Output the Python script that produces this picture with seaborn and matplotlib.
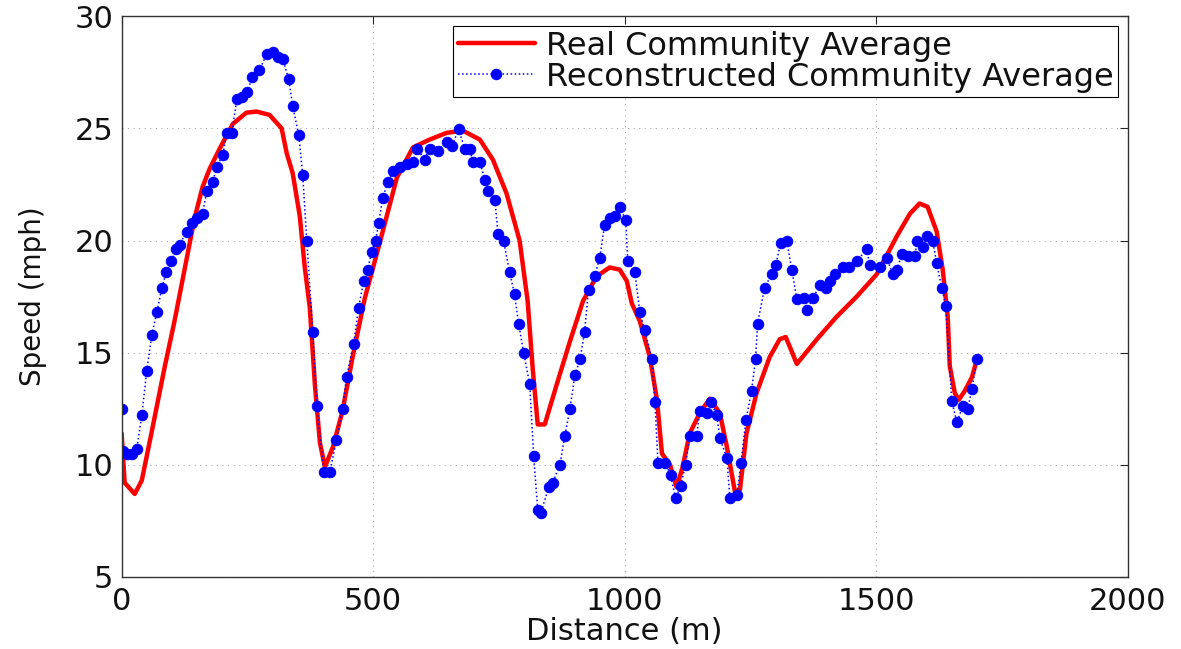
import numpy as np
import pandas as pd
import seaborn as sns
import matplotlib
matplotlib.use('Agg')
import matplotlib.pyplot as plt

# Real community average (red curve)
real_dist = [0, 6, 26, 40, 60, 85, 105, 125, 145, 161, 175, 195, 221, 248, 268,
             294, 318, 328, 340, 354, 364, 374, 384, 394, 404, 420, 439, 459,
             483, 513, 547, 579, 612, 646, 678, 712, 738, 765, 791, 807, 817,
             827, 841, 865, 891, 917, 944, 970, 990, 1004, 1014, 1030, 1050,
             1064, 1074, 1090, 1103, 1115, 1129, 1149, 1169, 1189, 1203, 1219,
             1229, 1242, 1262, 1288, 1308, 1320, 1342, 1382, 1421, 1461, 1501,
             1541, 1567, 1586, 1602, 1620, 1632, 1642, 1646, 1656, 1664, 1676,
             1690, 1700]
real_speed = [11.4, 9.2, 8.7, 9.3, 11.5, 14.3, 16.4, 18.7, 21.0, 22.4, 23.2,
              24.1, 25.2, 25.7, 25.75, 25.6, 25.0, 23.9, 23.0, 21.1, 18.8, 17.0,
              13.6, 11.0, 9.9, 10.8, 12.4, 14.8, 17.4, 19.9, 22.8, 24.15, 24.5,
              24.8, 24.9, 24.5, 23.6, 22.1, 20.0, 17.3, 14.3, 11.8, 11.8, 13.6,
              15.5, 17.3, 18.4, 18.8, 18.7, 18.2, 17.2, 16.4, 14.8, 12.9, 10.5,
              10.0, 9.0, 9.9, 11.4, 12.3, 12.95, 12.3, 10.8, 8.8, 8.9, 11.4,
              13.2, 14.8, 15.6, 15.7, 14.5, 15.6, 16.6, 17.5, 18.5, 20.2, 21.2,
              21.65, 21.5, 20.4, 18.7, 16.6, 14.4, 13.2, 12.9, 13.3, 13.9, 14.7]

# Reconstructed community average (blue dots)
rec_dist = [0, 2, 10, 20, 30, 40, 50, 60, 70, 80, 89, 99, 109, 115, 129, 139,
            149, 161, 169, 181, 189, 201, 209, 219, 229, 239, 249, 260, 274,
            288, 300, 310, 320, 332, 340, 352, 360, 368, 380, 388, 402, 414,
            427, 439, 447, 461, 471, 481, 489, 497, 505, 511, 519, 529, 539,
            553, 567, 579, 588, 602, 612, 628, 646, 656, 670, 682, 692, 698,
            712, 722, 728, 742, 748, 759, 771, 781, 789, 799, 811, 819, 827,
            833, 849, 857, 871, 881, 891, 901, 911, 920, 928, 940, 950, 960,
            970, 980, 990, 1002, 1006, 1020, 1030, 1040, 1054, 1060, 1066,
            1080, 1091, 1101, 1111, 1121, 1129, 1143, 1149, 1163, 1171, 1183,
            1189, 1203, 1209, 1223, 1231, 1241, 1252, 1260, 1264, 1278, 1292,
            1300, 1310, 1322, 1332, 1342, 1356, 1362, 1374, 1388, 1400, 1408,
            1417, 1433, 1445, 1461, 1481, 1487, 1507, 1521, 1533, 1541, 1551,
            1563, 1577, 1581, 1592, 1600, 1612, 1620, 1630, 1638, 1650, 1660,
            1672, 1682, 1690, 1700]
rec_speed = [12.5, 10.6, 10.5, 10.5, 10.7, 12.2, 14.2, 15.8, 16.8, 17.9, 18.6,
             19.1, 19.6, 19.8, 20.4, 20.8, 21.0, 21.2, 22.2, 22.6, 23.3, 23.8,
             24.8, 24.8, 26.3, 26.4, 26.6, 27.3, 27.6, 28.3, 28.4, 28.2, 28.1,
             27.2, 26.0, 24.7, 22.9, 20.0, 15.9, 12.6, 9.7, 9.7, 11.1, 12.5,
             13.9, 15.4, 17.0, 18.2, 18.7, 19.5, 20.0, 20.8, 21.9, 22.6, 23.1,
             23.3, 23.4, 23.5, 24.1, 23.6, 24.1, 24.0, 24.4, 24.2, 24.95, 24.1,
             24.1, 23.5, 23.5, 22.7, 22.2, 21.8, 20.3, 20.0, 18.6, 17.6, 16.3,
             15.0, 13.6, 10.4, 8.0, 7.85, 9.0, 9.2, 10.0, 11.3, 12.5, 14.0, 14.7,
             15.9, 17.8, 18.4, 19.2, 20.7, 21.0, 21.1, 21.5, 20.9, 19.1, 18.6,
             16.8, 16.0, 14.7, 12.8, 10.1, 10.1, 9.55, 8.5, 9.05, 10.0, 11.3,
             11.3, 12.4, 12.3, 12.8, 12.2, 11.2, 10.3, 8.5, 8.65, 10.1, 12.0,
             13.3, 14.7, 16.3, 17.9, 18.5, 18.9, 19.9, 20.0, 18.7, 17.4, 17.45,
             16.9, 17.45, 18.0, 17.9, 18.2, 18.5, 18.8, 18.8, 19.1, 19.6, 18.9,
             18.8, 19.2, 18.5, 18.7, 19.4, 19.3, 19.3, 20.0, 19.7, 20.2, 20.0,
             19.0, 17.9, 17.1, 12.85, 11.9, 12.6, 12.5, 13.4, 14.7]

sns.set_style('white')
# wide sans, the source text is stretched sideways
plt.rcParams['font.family'] = ['DejaVu Sans']
plt.rcParams['xtick.direction'] = 'in'
plt.rcParams['ytick.direction'] = 'in'

fig = plt.figure(figsize=(11.81, 6.49), dpi=100)
ax = fig.add_axes([0.103, 0.111, 0.852, 0.864])

sns.lineplot(x=real_dist, y=real_speed, ax=ax, color='red', linewidth=3.2,
             label='Real Community Average')
sns.lineplot(x=rec_dist, y=rec_speed, ax=ax, color='blue', linewidth=1.1,
             linestyle=':', marker='o', markersize=7.5, markeredgecolor='blue',
             label='Reconstructed Community Average')

ax.set_xlim(0, 2000)
ax.set_ylim(5, 30)
ax.set_xticks([0, 500, 1000, 1500, 2000])
ax.set_yticks([5, 10, 15, 20, 25, 30])
ax.tick_params(labelsize=22, length=6, width=0.8, top=True, right=True,
               labelcolor='#111111')
ax.tick_params(axis='x', pad=7)
ax.tick_params(axis='y', pad=6)
ax.grid(True, linestyle=(0, (1, 4)), color='#aaaaaa', linewidth=0.8)
for s in ax.spines.values():
    s.set_color('#333333')
    s.set_linewidth(1.0)

ax.set_xlabel('Distance (m)', fontsize=22, labelpad=1, color='#111111')
ax.set_ylabel('Speed (mph)', fontsize=20, labelpad=20, color='#111111')

leg = ax.legend(loc='upper right', fontsize=23, frameon=True, fancybox=False,
                edgecolor='black', framealpha=1, borderpad=0.15,
                handlelength=2.4, handletextpad=0.35, labelspacing=0.0,
                borderaxespad=0.3)
leg.get_frame().set_linewidth(0.8)
for t in leg.get_texts():
    t.set_color('#111111')

fig.savefig('out.png', dpi=100)
